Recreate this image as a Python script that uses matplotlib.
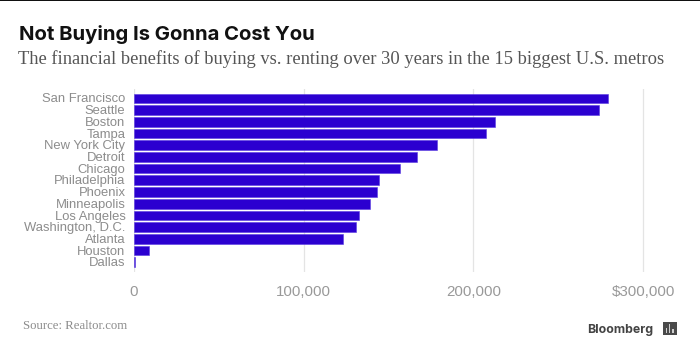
import matplotlib
matplotlib.use("Agg")
import matplotlib.pyplot as plt
from matplotlib.patches import Rectangle
from matplotlib.transforms import ScaledTranslation

metros = ["San Francisco", "Seattle", "Boston", "Tampa", "New York City", "Detroit", "Chicago",
          "Philadelphia", "Phoenix", "Minneapolis", "Los Angeles", "Washington, D.C.", "Atlanta",
          "Houston", "Dallas"]
benefit = [279300, 274000, 212800, 207400, 178500, 167000, 156800, 144200, 143000, 139300,
           132600, 130900, 123000, 8900, 900]
tick_vals = [0, 100000, 200000, 300000]
tick_labels = ["0", "100,000", "200,000", "$300,000"]

W, H = 700, 360
BLUE = "#2b00d0"
GREY = "#8c8c8c"

fig = plt.figure(figsize=(7, 3.6), dpi=100, facecolor="white")


def fx(px):
    return px / W


def fy(py):
    return 1 - py / H


# plot area in pixels
left, right, top, bottom = 133.5, 660, 88.5, 272
ax = fig.add_axes([fx(left), fy(bottom), fx(right - left), (bottom - top) / H])
ax.barh(range(len(metros)), benefit, height=0.82, color=BLUE, edgecolor="#5a3be0", linewidth=0.4, zorder=3)
ax.set_xlim(0, (right - left) / 170 * 100000)
ax.set_ylim(14.83, -0.837)
ax.set_yticks(range(len(metros)))
ax.set_yticklabels(metros, family="Liberation Sans", fontsize=9.4, color=GREY)
ax.set_xticks(tick_vals)
ax.set_xticklabels(tick_labels, family="Liberation Sans", fontsize=10.9, color="#999999")
ax.tick_params(axis="y", length=0, pad=5.8)
ax.tick_params(axis="x", length=0, pad=9)
for lab in ax.get_yticklabels():
    lab.set_transform(lab.get_transform() + ScaledTranslation(0, 0.004, fig.dpi_scale_trans))
ax.grid(axis="x", color="#e4e4e4", linewidth=0.9, zorder=0)
for s in ax.spines.values():
    s.set_visible(False)

# top rule
fig.add_artist(Rectangle((0, fy(1.2)), 1, 1.2 / H, transform=fig.transFigure, color="#111111", lw=0))

fig.text(fx(19), fy(40.5), "Not Buying Is Gonna Cost You", family="Inter", weight="bold",
         fontsize=14.6, color="#111111", va="baseline")
fig.text(fx(18), fy(64), "The financial benefits of buying vs. renting over 30 years in the 15 biggest U.S. metros",
         family="Liberation Serif", fontsize=13.35, color="#555555", va="baseline")
fig.text(fx(23), fy(329), "Source: Realtor.com", family="Liberation Serif", fontsize=9.2,
         color=GREY, va="baseline")
fig.text(fx(587.5), fy(333), "Bloomberg", family="Inter", weight="bold", fontsize=8.9,
         color="#444444", va="baseline")

# logo
fig.add_artist(Rectangle((fx(663), fy(335)), 13.5 / W, 13.5 / H, transform=fig.transFigure,
                         facecolor="#4a4a4a", lw=0))
for bx, bh in zip([665.5, 668.8, 672], [5, 9, 4]):
    fig.add_artist(Rectangle((fx(bx), fy(332.5)), 1.5 / W, bh / H, transform=fig.transFigure,
                             facecolor="#cfcfcf", lw=0, zorder=5))

fig.savefig("out.png", dpi=100, facecolor="white")
